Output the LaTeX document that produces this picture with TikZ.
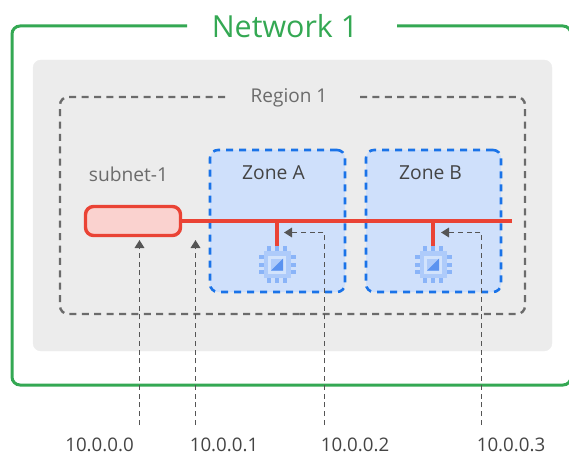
\documentclass[tikz,border=0pt]{standalone}
\usepackage{fontspec}
\setmainfont{Open Sans}
\usetikzlibrary{arrows.meta}
\definecolor{netgreen}{HTML}{34A853}
\definecolor{regionbg}{HTML}{ECECEC}
\definecolor{regionline}{HTML}{6B6B6B}
\definecolor{subnetred}{HTML}{EA4335}
\definecolor{subnetfill}{HTML}{FAD2CF}
\definecolor{zoneline}{HTML}{1A73E8}
\definecolor{zonefill}{HTML}{CFE0FB}
\definecolor{chipouter}{HTML}{AECBFA}
\definecolor{chipinner}{HTML}{D2E3FC}
\definecolor{chippin}{HTML}{8AB4F8}
\definecolor{chipdark}{HTML}{5B93F0}
\definecolor{addrline}{HTML}{555555}
\definecolor{labeltext}{HTML}{444444}
\tikzset{
  zonebox/.style={draw=zoneline, fill=zonefill, line width=2.6pt, rounded corners=8pt,
    dash pattern=on 7pt off 6pt, minimum width=135pt, minimum height=142pt, inner sep=0pt},
  chipbox/.style={minimum size=37pt, inner sep=0pt},
  regionframe/.style={regionline, line width=2.4pt, dash pattern=on 7pt off 5.4pt, rounded corners=8pt},
  addrarrow/.style={draw=addrline, line width=1.7pt, dash pattern=on 5pt off 3.8pt,
    -{Triangle[width=9.5pt,length=8pt,color=addrline]}},
  wire/.style={draw=subnetred, line width=3.4pt},
  addrlabel/.style={text=labeltext, font=\fontsize{18.7pt}{20pt}\selectfont, inner sep=0pt},
  zonelabel/.style={text=labeltext, font=\fontsize{19.3pt}{22pt}\selectfont, inner sep=0pt}
}
\begin{document}
\begin{tikzpicture}[x=1pt,y=-1pt]
  \useasboundingbox (0,0) rectangle (569,454);

  % network frame, open behind its title
  \begin{scope}
    \clip (0,0) rectangle (569,454);
    \draw[netgreen, line width=3pt, rounded corners=8pt]
      (187,26) -| (12,385) -| (571,26) -- (397,26);
  \end{scope}
  \node[text=netgreen, font=\fontsize{30.4pt}{34pt}\selectfont, inner sep=0pt] (network) at (285,26) {Network 1};

  \filldraw[regionbg, rounded corners=8pt] (33,60) rectangle (552,351);

  % region frame, two halves so both ends next to the title keep a dash
  \draw[regionframe] (225,97) -| (60,314) -- (300,314);
  \draw[regionframe] (360,97) -| (525,314) -- (300,314);
  \node[text=regionline, font=\fontsize{19pt}{22pt}\selectfont, inner sep=0pt] (region) at (289,98) {Region 1};

  \node[zonebox] (zoneA) at (277.5,221) {};
  \node[zonebox] (zoneB) at (433.5,221) {};
  \node[zonelabel] (zoneAlabel) at (273.5,173) {Zone A};
  \node[zonelabel] (zoneBlabel) at (430.5,173) {Zone B};
  \node[text=regionline, font=\fontsize{19.2pt}{22pt}\selectfont, inner sep=0pt] (subnetlabel) at (128.5,174) {subnet-1};

  \node[chipbox] (chipA) at (277,264.5) {};
  \node[chipbox] (chipB) at (433,264.5) {};

  % chips
  \foreach \c in {chipA,chipB}{
    \foreach \d in {-7.7,0,7.7}{
      \fill[chippin] ([shift={(\d-2,-18.5)}]\c.center) rectangle ([shift={(\d+2,18.5)}]\c.center);
      \fill[chippin] ([shift={(-18.5,\d-2)}]\c.center) rectangle ([shift={(18.5,\d+2)}]\c.center);
    }
    \fill[chipouter] ([shift={(-13.5,-13.5)}]\c.center) rectangle ([shift={(13.5,13.5)}]\c.center);
    \fill[chipinner] ([shift={(-9,-9)}]\c.center) rectangle ([shift={(9,9)}]\c.center);
    \fill[chipouter] ([shift={(-6,-6)}]\c.center) rectangle ([shift={(6,6)}]\c.center);
    \fill[chipdark] ([shift={(6,-6)}]\c.center) -- ([shift={(6,6)}]\c.center) -- ([shift={(-6,6)}]\c.center) -- cycle;
  }

  % subnet and its wires
  \node[draw=subnetred, fill=subnetfill, line width=3.4pt, rounded corners=8pt,
    minimum width=95pt, minimum height=29pt, inner sep=0pt] (subnet) at (133,221) {};
  \coordinate (wireend) at (512,221);
  \coordinate (tapA) at (277,221);
  \coordinate (tapB) at (433,221);
  \draw[wire] (subnet.east) -- (wireend);
  \draw[wire] (tapA) -- (chipA.north);
  \draw[wire] (tapB) -- (chipB.north);

  % address pointers
  \coordinate (start0) at (139.5,425);
  \coordinate (tip0) at (139.5,240);
  \coordinate (start1) at (195.5,425);
  \coordinate (tip1) at (195.5,240);
  \coordinate (start2) at (324.5,425);
  \coordinate (bend2) at (324.5,232.5);
  \coordinate (tip2) at (284,232.5);
  \coordinate (start3) at (481.5,425);
  \coordinate (bend3) at (481.5,232.5);
  \coordinate (tip3) at (441,232.5);
  \draw[addrarrow] (start0) -- (tip0);
  \draw[addrarrow] (start1) -- (tip1);
  \draw[addrarrow] (start2) -- (bend2) -- (tip2);
  \draw[addrarrow] (start3) -- (bend3) -- (tip3);

  \node[addrlabel] (addr0) at (99.5,445) {10.0.0.0};
  \node[addrlabel] (addr1) at (224,445) {10.0.0.1};
  \node[addrlabel] (addr2) at (355,445) {10.0.0.2};
  \node[addrlabel] (addr3) at (511,445) {10.0.0.3};
\end{tikzpicture}
\end{document}
